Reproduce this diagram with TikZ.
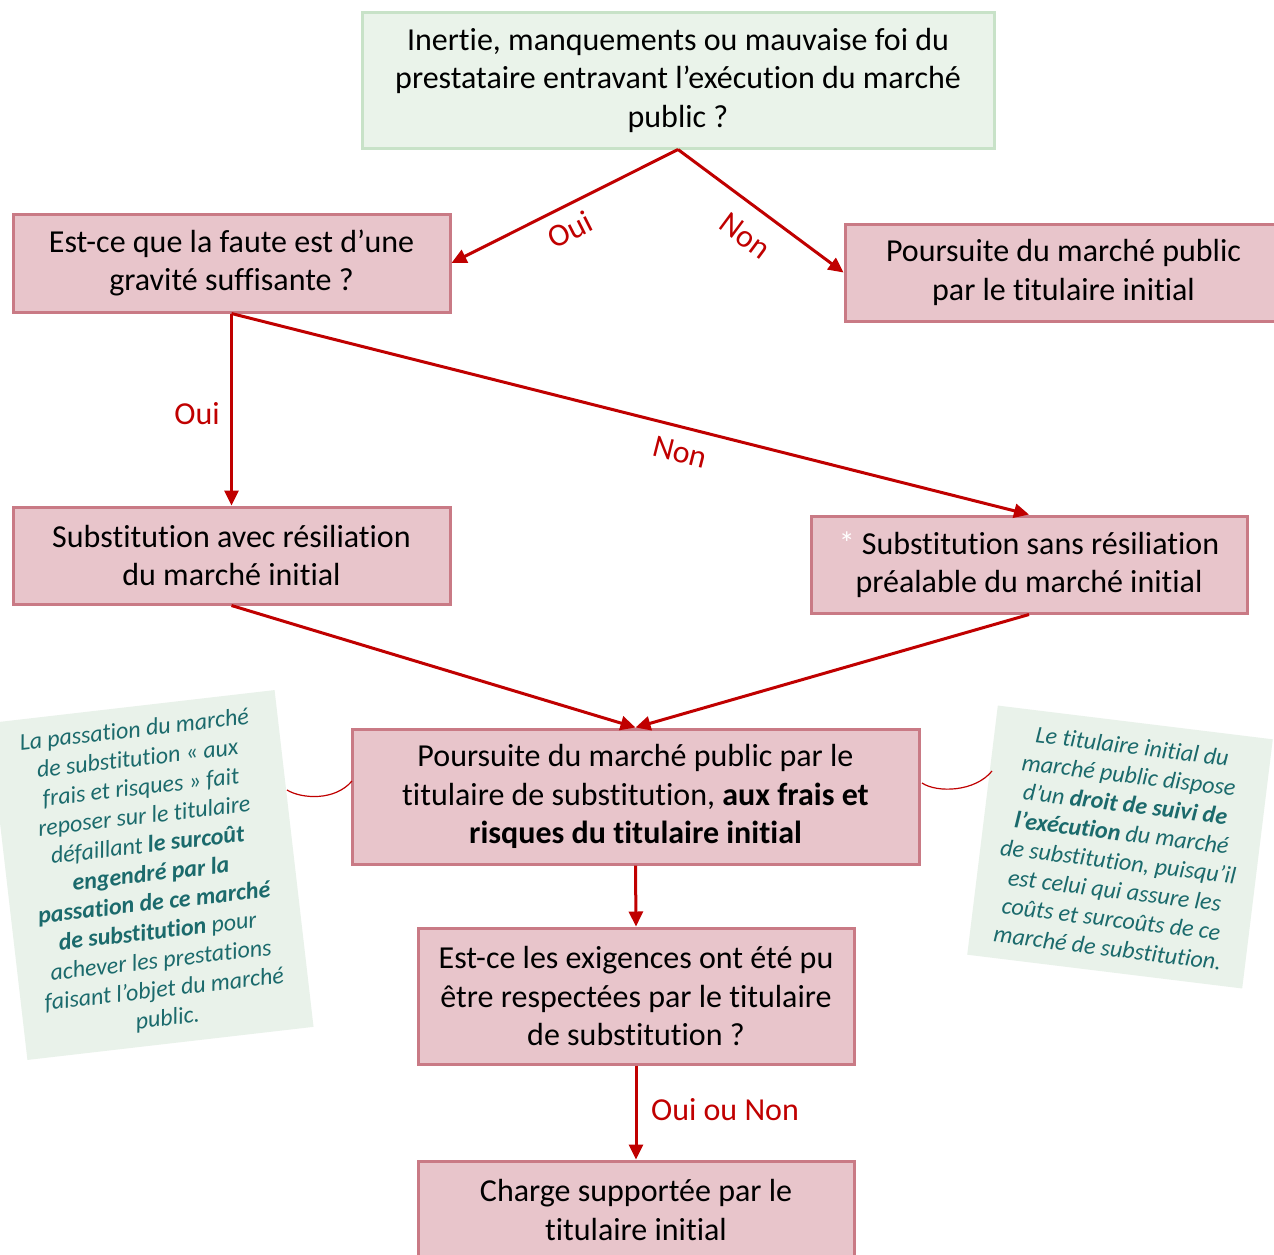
\documentclass[tikz,border=0pt]{standalone}
\usepackage{fontspec}
\setmainfont[Ligatures={NoCommon}]{Carlito}
\usetikzlibrary{arrows.meta}
\definecolor{pinkfill}{HTML}{E8C5CB}
\definecolor{pinkdraw}{HTML}{C97A85}
\definecolor{greenfill}{HTML}{EAF3EA}
\definecolor{greendraw}{HTML}{C8E2C8}
\definecolor{notefill}{HTML}{E9F2EA}
\definecolor{noteteal}{HTML}{1B6A6C}
\definecolor{arrred}{HTML}{C00000}
\tikzset{
  pinkbox/.style={draw=pinkdraw, fill=pinkfill, line width=3pt, align=center, inner sep=0pt,
    font=\fontsize{32}{38.5}\selectfont, text=black},
  greenbox/.style={pinkbox, draw=greendraw, fill=greenfill},
  notebox/.style={fill=notefill, align=center, inner sep=0pt,
    font=\fontsize{24}{29}\selectfont\itshape, text=noteteal},
  arr/.style={draw=arrred, line width=3pt, -{Triangle[length=15pt,width=14pt]}},
  lab/.style={text=arrred, font=\fontsize{32}{38}\selectfont, inner sep=0pt},
  link/.style={draw=arrred, line width=1.2pt}
}
\begin{document}
\begin{tikzpicture}[x=1pt,y=-1pt]
\clip (0,0) rectangle (1274,1254);
\fill[white] (0,0) rectangle (1274,1254);

% side notes
\node[notebox, minimum width=288, minimum height=339, rotate=6.6] (leftnote) at (151,875)
 {La passation du marché\\de substitution «~aux\\frais et risques~» fait\\reposer sur le titulaire\\défaillant \textbf{le surcoût}\\\textbf{engendré par la}\\\textbf{passation de ce marché}\\\textbf{de substitution} pour\\achever les prestations\\faisant l’objet du marché\\public.};
\node[notebox, minimum width=277, minimum height=251, rotate=-7] (rightnote) at (1120,847)
 {Le titulaire initial du\\marché public dispose\\d’un \textbf{droit de suivi de}\\\textbf{l’exécution} du marché\\de substitution, puisqu’il\\est celui qui assure les\\coûts et surcoûts de ce\\marché de substitution.};

% main boxes
\node[greenbox, minimum width=632, minimum height=136] (top) at (678,80)
 {Inertie, manquements ou mauvaise foi du\\prestataire entravant l’exécution du marché\\public ?};
\node[pinkbox, minimum width=437, minimum height=98] (faute) at (231.5,263)
 {Est-ce que la faute est d’une\\gravité suffisante ?};
\node[pinkbox, minimum width=437, minimum height=97] (poursInit) at (1063.5,272.5)
 {Poursuite du marché public\\par le titulaire initial};
\node[pinkbox, minimum width=437, minimum height=97] (subAvec) at (231.5,555.5)
 {Substitution avec résiliation\\du marché initial};
\node[pinkbox, minimum width=436, minimum height=97] (subSans) at (1029,564.5)
 {{\color{white}*} Substitution sans résiliation\\préalable du marché initial};
\node[pinkbox, minimum width=567, minimum height=135] (poursSub) at (635.5,796.5)
 {Poursuite du marché public par le\\titulaire de substitution, \textbf{aux frais et}\\\textbf{risques du titulaire initial}};
\node[pinkbox, minimum width=436, minimum height=136] (exig) at (636,996)
 {Est-ce les exigences ont été pu\\être respectées par le titulaire\\de substitution ?};
\node[pinkbox, minimum width=436, minimum height=98] (charge) at (636,1210)
 {Charge supportée par le\\titulaire initial};

% connectors
\draw[arr] (top.south) -- (faute.east);
\draw[arr] (top.south) -- (poursInit.west);
\draw[arr] (faute.south) -- (subAvec.north);
\draw[arr] (faute.south) -- (subSans.north);
\draw[arr] (subAvec.south) -- (poursSub.north);
\draw[arr] (subSans.south) -- (poursSub.north);
\draw[arr] (poursSub.south) -- (exig.north);
\draw[arr] (exig.south) -- (charge.north);

% labels
\node[lab, rotate=26.8] (l1) at (570,230) {Oui};
\node[lab, rotate=-36.6] (l2) at (745,236) {Non};
\node[lab] (l3) at (197,414) {Oui};
\node[lab, rotate=-14.3] (l4) at (680,452) {Non};
\node[lab] (l5) at (725,1110) {Oui ou Non};

% note links
\coordinate (lcA) at (287,790);
\coordinate (lcB) at (352,781);
\coordinate (rcA) at (922,783);
\coordinate (rcB) at (992,771);
\draw[link] (lcA) .. controls (302,799) and (335,801) .. (lcB);
\draw[link] (rcA) .. controls (937,793) and (975,792) .. (rcB);
\end{tikzpicture}
\end{document}
